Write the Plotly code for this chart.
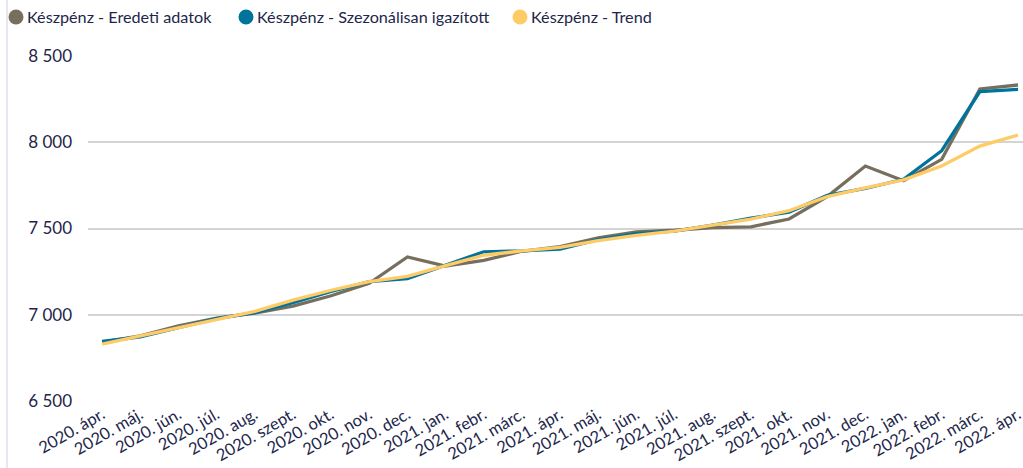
import plotly.graph_objects as go

categories = ["2020. ápr.", "2020. máj.", "2020. jún.", "2020. júl.", "2020. aug.", "2020. szept.",
              "2020. okt.", "2020. nov.", "2020. dec.", "2021. jan.", "2021. febr.", "2021. márc.",
              "2021. ápr.", "2021. máj.", "2021. jún.", "2021. júl.", "2021. aug.", "2021. szept.",
              "2021. okt.", "2021. nov.", "2021. dec.", "2022. jan.", "2022. febr.", "2022. márc.",
              "2022. ápr."]

eredeti = [6842, 6878, 6935, 6980, 7010, 7050, 7110, 7182, 7335, 7282, 7315, 7368,
           7395, 7445, 7480, 7490, 7505, 7510, 7555, 7685, 7862, 7777, 7901, 8309, 8332]
szezonalis = [6845, 6872, 6925, 6978, 7012, 7070, 7135, 7192, 7210, 7290, 7365, 7370,
              7380, 7435, 7470, 7485, 7520, 7560, 7595, 7692, 7732, 7785, 7951, 8293, 8307]
trend = [6830, 6878, 6925, 6975, 7020, 7085, 7142, 7192, 7222, 7285, 7345, 7370,
         7390, 7430, 7460, 7485, 7520, 7555, 7603, 7685, 7735, 7782, 7862, 7978, 8042]

names = ["Készpénz - Eredeti adatok", "Készpénz - Szezonálisan igazított", "Készpénz - Trend"]
colors = ["#776F5E", "#00739C", "#FFCB66"]
series = [eredeti, szezonalis, trend]

L, T, PW, PH = 88, 56, 935, 345  # plot area position/size in px


def px_x(px):
    return (px - L) / PW


def px_y(py):
    return (T + PH - py) / PH


fig = go.Figure()
x_idx = list(range(len(categories)))
for name, color, vals in zip(names, colors, series):
    fig.add_trace(go.Scatter(x=x_idx, y=vals, mode="lines", name=name,
                             line=dict(color=color, width=3.3), showlegend=False))

# legend row (dot + text) at top-left
legend_dot_x = [16, 246, 520]
legend_y = 17
shapes = [dict(type="line", xref="paper", yref="paper", x0=px_x(7), x1=px_x(7),
               y0=px_y(468), y1=px_y(0), line=dict(color="#E6E6F5", width=2))]
annotations = []
for name, color, dx in zip(names, colors, legend_dot_x):
    shapes.append(dict(type="circle", xref="paper", yref="paper", xsizemode="pixel",
                       ysizemode="pixel", xanchor=px_x(dx), yanchor=px_y(legend_y),
                       x0=-7.5, x1=7.5, y0=-7.5, y1=7.5, fillcolor=color, line=dict(width=0)))
    annotations.append(dict(xref="paper", yref="paper", x=px_x(dx + 9), y=px_y(legend_y),
                            xanchor="left", yanchor="middle", text=name, showarrow=False,
                            font=dict(size=16.2, color="#22264B")))

fig.update_layout(
    width=1023, height=468,
    margin=dict(l=L, r=1023 - L - PW, t=T, b=468 - T - PH, autoexpand=False),
    paper_bgcolor="white", plot_bgcolor="white",
    font=dict(family="Lato", color="#22264B", size=15),
    separators=", ",
    showlegend=False,
    xaxis=dict(range=[-0.37, 24.13], tickmode="array", tickvals=x_idx, ticktext=categories,
               tickangle=-30, showgrid=False, showline=False, zeroline=False, automargin=False,
               ticklabeloverflow="allow", tickfont=dict(size=16.5, color="#22264B")),
    yaxis=dict(range=[6500, 8500], tickvals=[6500, 7000, 7500, 8000, 8500], tickformat=",d",
               showgrid=True, gridcolor="#D4D4D4", gridwidth=1.5, zeroline=False, showline=False,
               automargin=False, ticklabelstandoff=15, tickfont=dict(size=17, color="#22264B")),
    shapes=shapes,
    annotations=annotations,
)

fig.write_html("out.html", config={"displayModeBar": False},
               post_script="document.body.style.margin='0';document.body.style.overflow='hidden';")
